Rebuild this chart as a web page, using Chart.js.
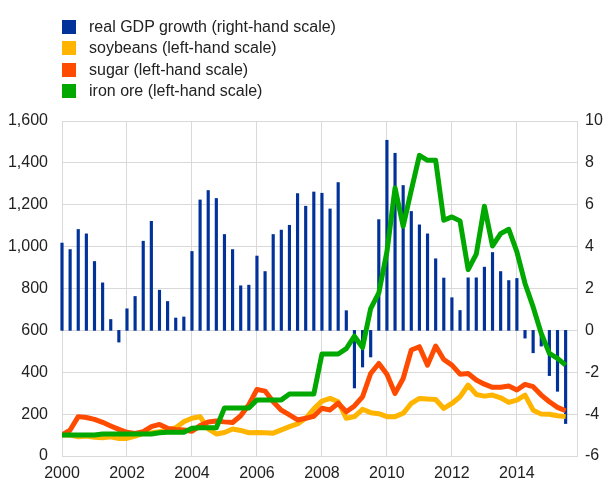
<!DOCTYPE html>
<html>
<head>
<meta charset="utf-8">
<script src="https://cdn.jsdelivr.net/npm/chart.js@4"></script>
<style>
  body { margin: 0; background: #fff; }
  #marco { position: relative; width: 609px; height: 483px; }
  #leyenda { position: absolute; left: 62px; top: 16px; font: 16px Arial, 'Liberation Sans', sans-serif; color: #222; }
  .item { height: 21.5px; display: flex; align-items: center; white-space: nowrap; }
  .caja { width: 14px; height: 14px; margin-right: 13px; }
</style>
</head>
<body>
<div id="marco">
  <canvas id="grafica" width="609" height="483"></canvas>
  <div id="leyenda"></div>
</div>
<script>
// trimestres desde 2000 T1 hasta 2015 T3
const anioInicio = 2000;
const trimestres = Array.from({ length: 63 }, (_, i) => anioInicio + i / 4);
const aniosEje = [2000, 2002, 2004, 2006, 2008, 2010, 2012, 2014];

// PIB real, % interanual (escala derecha)
const pib = [
  4.17, 3.86, 4.82, 4.61,  3.29, 2.27, 0.52, -0.56,  1.03, 1.62, 4.26, 5.21,  1.92, 1.38, 0.59, 0.64,
  3.77, 6.23, 6.68, 6.30,  4.58, 3.86, 2.13, 2.16,  3.55, 2.81, 4.58, 4.79,  5.02, 6.53, 5.93, 6.61,
  6.55, 5.80, 7.06, 0.94,  -2.75, -1.75, -1.27, 5.29,  9.08, 8.46, 6.92, 5.68,  5.04, 4.61, 3.42, 2.50,
  1.56, 0.95, 2.51, 2.51,  3.02, 3.72, 2.81, 2.38,  2.48, -0.37, -1.07, -0.75,  -2.16, -2.91, -4.45
];

// precios, índice 2000 = 100 (escala izquierda)
const soja = [
  100, 100, 92, 95,  89, 87, 92, 83,  84, 95, 108, 111,  116, 124, 135, 164,
  180, 188, 130, 105,  112, 129, 122, 111,  112, 111, 109, 125,  140, 153, 180, 225,
  262, 275, 259, 180,  188, 223, 207, 202,  188, 188, 204, 251,  275, 272, 270, 227,
  251, 283, 339, 294,  286, 291, 278, 256,  267, 291, 219, 200,  199, 192, 188
];

const azucar = [
  100, 124, 188, 184,  175, 161, 143, 127,  113, 108, 116, 140,  151, 132, 127, 124,
  118, 145, 162, 167,  163, 160, 192, 245,  318, 310, 259, 219,  196, 172, 180, 190,
  228, 220, 252, 211,  239, 283, 394, 442,  390, 299, 370, 506,  522, 434, 525, 461,
  434, 391, 394, 363,  343, 328, 328, 334,  315, 342, 331, 291,  259, 232, 216
];

const hierro = [
  100, 100, 100, 100,  100, 105, 105, 105,  105, 105, 105, 105,  111, 113, 113, 113,
  132, 135, 135, 135,  229, 229, 229, 229,  268, 268, 268, 268,  296, 296, 296, 296,
  487, 487, 487, 513,  572, 518, 704, 779,  975, 1280, 1097, 1269,  1436, 1412, 1412, 1126,
  1142, 1123, 890, 964,  1193, 1003, 1062, 1083,  975, 824, 712, 585,  490, 466, 434
];

const etiquetas = [
  'real GDP growth (right-hand scale)',
  'soybeans (left-hand scale)',
  'sugar (left-hand scale)',
  'iron ore (left-hand scale)'
];
const colores = ['#003299', '#ffb400', '#ff4b00', '#00a800'];

const puntos = serie => serie.map((v, i) => ({ x: trimestres[i], y: v }));

const fuente = { family: "Arial, 'Liberation Sans', sans-serif", size: 16 };
const gris = '#d9d9d9';

function crearLinea(i, datos, orden) {
  return {
    type: 'line',
    label: etiquetas[i],
    data: puntos(datos),
    yAxisID: 'y',
    borderColor: colores[i],
    backgroundColor: colores[i],
    borderWidth: 5,
    pointRadius: 0,
    tension: 0,
    borderJoinStyle: 'round',
    order: orden
  };
}

const grafica = new Chart(document.getElementById('grafica').getContext('2d'), {
  type: 'bar',
  data: {
    datasets: [
      {
        type: 'bar',
        label: etiquetas[0],
        data: puntos(pib),
        yAxisID: 'y2',
        backgroundColor: colores[0],
        barThickness: 2.5,
        clip: false,
        order: 4
      },
      crearLinea(1, soja, 3),
      crearLinea(2, azucar, 2),
      crearLinea(3, hierro, 1)
    ]
  },
  options: {
    responsive: false,
    animation: false,
    layout: { padding: { top: 121 } },
    plugins: { legend: { display: false }, tooltip: { enabled: false } },
    scales: {
      x: {
        type: 'linear',
        min: 2000,
        max: 2015.85,
        offset: false,
        grid: { color: gris, drawTicks: false, offset: false },
        border: { color: gris },
        ticks: { padding: 8, color: '#222', font: fuente, callback: v => String(v) },
        afterBuildTicks: s => { s.ticks = aniosEje.map(a => ({ value: a })); },
        afterFit: s => { s.height = 27; }
      },
      y: {
        position: 'left',
        min: 0,
        max: 1600,
        grid: { color: gris, drawTicks: false },
        border: { color: gris },
        ticks: { stepSize: 200, padding: 14, color: '#222', font: fuente, callback: v => v.toLocaleString('en-US') },
        afterFit: s => { s.width = 62; }
      },
      y2: {
        position: 'right',
        min: -6,
        max: 10,
        grid: { display: false, drawTicks: false },
        border: { color: gris },
        ticks: { stepSize: 2, padding: 8, color: '#222', font: fuente },
        afterFit: s => { s.width = 32; }
      }
    }
  }
});

// leyenda en columna, como en el original
const leyenda = document.getElementById('leyenda');
grafica.data.datasets.forEach(ds => {
  const fila = document.createElement('div');
  fila.className = 'item';
  const caja = document.createElement('span');
  caja.className = 'caja';
  caja.style.background = ds.backgroundColor;
  fila.appendChild(caja);
  fila.appendChild(document.createTextNode(ds.label));
  leyenda.appendChild(fila);
});
</script>
</body>
</html>
